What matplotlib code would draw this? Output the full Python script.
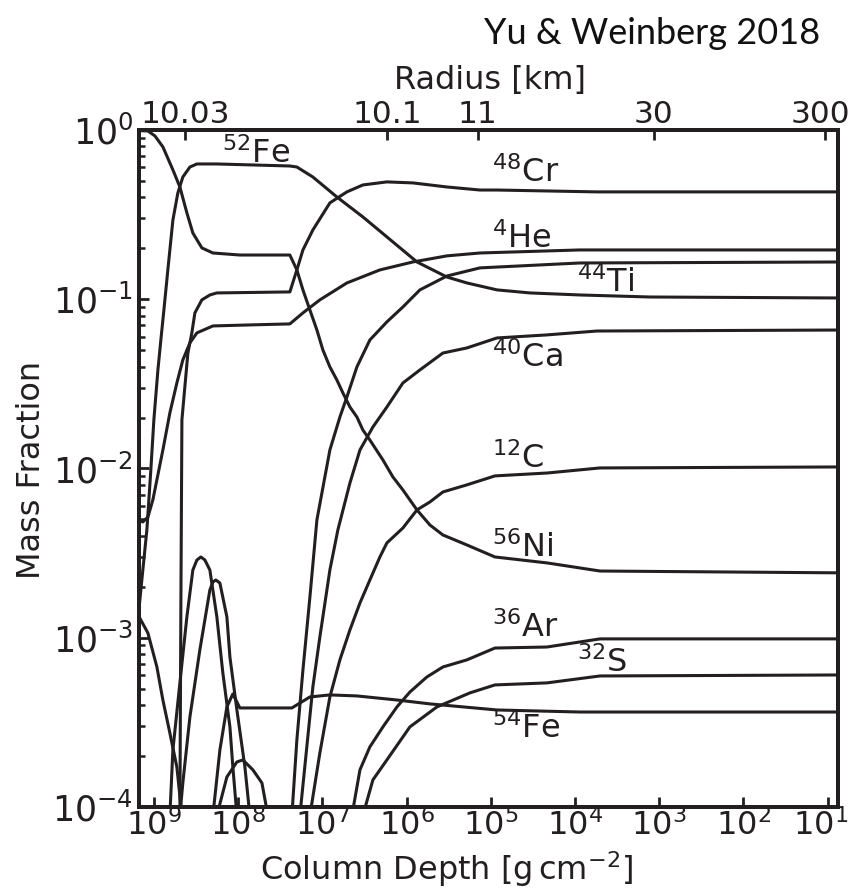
import numpy as np
import matplotlib
matplotlib.use("Agg")
import matplotlib.pyplot as plt
from matplotlib.transforms import ScaledTranslation
from matplotlib.ticker import LogLocator, NullLocator, NullFormatter, FixedLocator, FixedFormatter

plt.rcParams["font.family"] = ["DejaVu Sans"]
plt.rcParams["mathtext.fontset"] = "dejavusans"

C = "#231f20"

# valeurs : log10(colonne) et log10(fraction de masse)
ni56_ld = [9.178, 9.071, 8.988, 8.893, 8.774, 8.691, 8.608, 8.537, 8.430, 8.299, 7.979, 7.385, 7.302, 7.230,
           7.147, 7.064, 6.993, 6.910, 6.827, 6.755, 6.672, 6.589, 6.518, 6.435, 6.280, 6.162, 6.043, 5.876,
           5.722, 5.568, 5.283, 4.950, 4.333, 3.703, 0.8]
ni56_lx = [-0.004, -0.006, -0.035, -0.100, -0.236, -0.337, -0.490, -0.609, -0.697, -0.727, -0.739, -0.739,
           -0.827, -0.945, -1.064, -1.182, -1.300, -1.400, -1.477, -1.554, -1.637, -1.696, -1.773, -1.832,
           -1.950, -2.050, -2.127, -2.245, -2.334, -2.393, -2.452, -2.523, -2.558, -2.606, -2.617]

fe52_ld = [9.178, 9.131, 9.083, 9.036, 9.0, 8.952, 8.917, 8.881, 8.834, 8.774, 8.715, 8.656, 8.572, 8.489,
           8.252, 7.385, 7.302, 7.112, 6.827, 6.518, 6.233, 5.876, 5.520, 5.283, 4.926, 4.534, 3.941, 3.109, 0.8]
fe52_lx = [-2.836, -2.600, -2.363, -2.009, -1.713, -1.418, -1.241, -1.064, -0.827, -0.532, -0.372, -0.278,
           -0.219, -0.201, -0.201, -0.213, -0.219, -0.278, -0.396, -0.514, -0.632, -0.780, -0.869, -0.904,
           -0.945, -0.963, -0.975, -0.987, -0.993]

cr48_ld = [8.691, 8.679, 8.667, 8.632, 8.596, 8.549, 8.513, 8.430, 8.335, 8.252, 7.385, 7.302, 7.230, 7.112,
           6.910, 6.708, 6.518, 6.233, 5.924, 5.520, 5.128, 4.926, 3.739, 0.8]
cr48_lx = [-4.05, -2.777, -1.713, -1.518, -1.318, -1.199, -1.081, -1.004, -0.975, -0.963, -0.957, -0.827,
           -0.709, -0.591, -0.431, -0.366, -0.325, -0.307, -0.313, -0.337, -0.355, -0.355, -0.366, -0.366]

he4_ld = [9.2, 9.131, 9.071, 9.012, 8.893, 8.810, 8.727, 8.656, 8.572, 8.489, 8.299, 7.860, 7.385, 7.230,
          7.029, 6.708, 6.316, 5.924, 5.520, 5.128, 4.736, 3.941, 0.8]
he4_lx = [-2.304, -2.316, -2.287, -2.186, -1.891, -1.672, -1.495, -1.359, -1.258, -1.199, -1.158, -1.152,
          -1.146, -1.081, -1.004, -0.904, -0.827, -0.780, -0.744, -0.727, -0.721, -0.709, -0.709]

ti44_ld = [7.361, 7.302, 7.230, 7.147, 7.064, 6.910, 6.791, 6.708, 6.589, 6.435, 6.233, 6.043, 5.841, 5.520,
           5.128, 3.941, 0.8]
ti44_lx = [-4.05, -3.604, -3.191, -2.759, -2.304, -1.891, -1.696, -1.578, -1.400, -1.241, -1.134, -1.046,
           -0.945, -0.863, -0.815, -0.786, -0.780]

ca40_ld = [7.266, 7.112, 7.029, 6.910, 6.815, 6.672, 6.553, 6.399, 6.233, 6.043, 5.841, 5.568, 5.283, 4.926,
           4.333, 3.739, 0.8]
ca40_lx = [-4.05, -3.291, -2.996, -2.600, -2.363, -2.086, -1.891, -1.755, -1.637, -1.495, -1.418, -1.318,
           -1.288, -1.229, -1.211, -1.188, -1.182]

c12_ld = [7.147, 7.029, 6.910, 6.791, 6.672, 6.553, 6.435, 6.316, 6.233, 6.043, 5.876, 5.722, 5.568, 5.283,
          4.950, 4.333, 3.703, 0.8]
c12_lx = [-4.05, -3.681, -3.350, -3.131, -2.954, -2.795, -2.659, -2.523, -2.440, -2.352, -2.245, -2.198,
          -2.139, -2.097, -2.044, -2.027, -1.997, -1.991]

ar36_ld = [6.648, 6.553, 6.435, 6.280, 6.114, 5.960, 5.758, 5.568, 5.283, 4.950, 4.333, 3.703, 0.8]
ar36_lx = [-4.05, -3.781, -3.645, -3.527, -3.409, -3.321, -3.232, -3.173, -3.131, -3.061, -3.055, -3.007, -3.007]

s32_ld = [6.518, 6.399, 6.233, 5.960, 5.639, 5.247, 4.950, 4.333, 3.703, 0.8]
s32_lx = [-4.05, -3.840, -3.722, -3.527, -3.409, -3.326, -3.279, -3.267, -3.226, -3.220]

fe54_ld = [8.299, 8.216, 8.133, 8.062, 8.014, 7.979, 7.361, 7.266, 7.147, 6.910, 6.589, 6.114, 5.722, 4.926,
           3.941, 0.8]
fe54_lx = [-4.05, -3.663, -3.409, -3.332, -3.380, -3.415, -3.415, -3.386, -3.350, -3.338, -3.344, -3.368,
           -3.391, -3.427, -3.439, -3.439]

# especes non nommees pres de la base
base_ld = [9.2, 9.071, 8.964, 8.893, 8.810, 8.727, 8.667]
base_lx = [-2.854, -2.972, -3.173, -3.368, -3.563, -3.764, -4.05]

pic1_ld = [8.810, 8.774, 8.691, 8.608, 8.537, 8.489, 8.442, 8.394, 8.335, 8.252, 8.181, 8.097, 8.062, 8.014]
pic1_lx = [-4.05, -3.663, -3.267, -2.877, -2.600, -2.541, -2.523, -2.541, -2.600, -2.877, -3.208, -3.527,
           -3.764, -4.05]

pic2_ld = [8.691, 8.656, 8.572, 8.454, 8.335, 8.299, 8.264, 8.216, 8.133, 8.097, 8.014, 7.919, 7.860]
pic2_lx = [-4.05, -3.858, -3.468, -3.072, -2.718, -2.671, -2.659, -2.677, -2.877, -3.114, -3.427, -3.764, -4.05]

pic3_ld = [8.252, 8.133, 8.014, 7.943, 7.824, 7.717, 7.646]
pic3_lx = [-4.05, -3.823, -3.734, -3.722, -3.781, -3.858, -4.05]

# etiquettes : texte, log10(colonne) du bord gauche, log10(X) de la ligne de base
labels = [r"$^{52}$Fe", r"$^{48}$Cr", r"$^{4}$He", r"$^{44}$Ti", r"$^{40}$Ca", r"$^{12}$C",
          r"$^{56}$Ni", r"$^{36}$Ar", r"$^{32}$S", r"$^{54}$Fe"]
label_ld = [8.192, 4.986, 4.986, 3.976, 4.986, 4.986, 4.986, 4.986, 3.976, 4.986]
label_lx = [-0.195, -0.307, -0.697, -0.957, -1.400, -1.997, -2.523, -2.996, -3.202, -3.592]

# graduations
depth_ticks = [1e9, 1e8, 1e7, 1e6, 1e5, 1e4, 1e3, 1e2, 1e1]
frac_ticks = [1e-4, 1e-3, 1e-2, 1e-1, 1e0]

# axe du haut : rayon
radius_labels = ["10.03", "10.1", "11", "30", "300"]
radius_ld = [8.632, 6.233, 5.152, 3.062, 1.034]

fig = plt.figure(figsize=(8.52, 8.9), dpi=100)
ax = fig.add_axes([0.163, 0.0933, 0.8206, 0.7607])

curves = [(ni56_ld, ni56_lx), (fe52_ld, fe52_lx), (cr48_ld, cr48_lx), (he4_ld, he4_lx), (ti44_ld, ti44_lx),
          (ca40_ld, ca40_lx), (c12_ld, c12_lx), (ar36_ld, ar36_lx), (s32_ld, s32_lx), (fe54_ld, fe54_lx),
          (base_ld, base_lx), (pic1_ld, pic1_lx), (pic2_ld, pic2_lx), (pic3_ld, pic3_lx)]
for ld, lx in curves:
    ax.plot(10.0 ** np.array(ld), 10.0 ** np.array(lx), color=C, lw=2.2,
            solid_joinstyle="round", solid_capstyle="round")

for t, ld, lx in zip(labels, label_ld, label_lx):
    ax.text(10.0 ** ld, 10.0 ** lx, t, fontsize=23, color=C, ha="left", va="baseline")

ax.set_xscale("log")
ax.set_yscale("log")
ax.set_xlim(10 ** 9.178, 10 ** 0.876)
ax.set_ylim(1e-4, 1)

ax.xaxis.set_major_locator(FixedLocator(depth_ticks))
ax.xaxis.set_minor_locator(NullLocator())
ax.yaxis.set_major_locator(FixedLocator(frac_ticks))
ax.yaxis.set_minor_locator(LogLocator(base=10, subs=np.arange(2, 10), numticks=20))
ax.yaxis.set_minor_formatter(NullFormatter())
ax.tick_params(which="both", direction="in", top=False, right=False, colors=C, labelcolor=C)
ax.tick_params(which="major", length=7, width=2, labelsize=25, pad=4)
ax.tick_params(axis="x", which="major", pad=2, labelsize=23)
ax.tick_params(which="minor", length=4, width=1.8)
for s in ax.spines.values():
    s.set_linewidth(2.8)
    s.set_color(C)

ax2 = ax.twiny()
ax2.set_xscale("log")
ax2.set_xlim(ax.get_xlim())
ax2.xaxis.set_major_locator(FixedLocator(10.0 ** np.array(radius_ld)))
ax2.xaxis.set_major_formatter(FixedFormatter(radius_labels))
ax2.xaxis.set_minor_locator(NullLocator())
ax2.tick_params(axis="x", direction="in", length=7, width=2, labelsize=22.5, pad=1, colors=C, labelcolor=C)
for s in ax2.spines.values():
    s.set_linewidth(2.8)
    s.set_color(C)

fig.text(490 / 852, 1 - 81 / 890, "Radius [km]", fontsize=23, color=C, ha="center", va="center")
fig.text(447 / 852, 1 - 869 / 890, r"Column Depth [g$\,$cm$^{-2}$]", fontsize=23, color=C,
         ha="center", va="center")
fig.text(32 / 852, 1 - 470 / 890, "Mass Fraction", fontsize=23, color=C, rotation=90,
         ha="center", va="center")
fig.text(820 / 852, 1 - 34 / 890, "Yu & Weinberg 2018", fontsize=26, color="#111111",
         family=["Lato", "DejaVu Sans"], ha="right", va="center")

# les labels 10^1 et 300 debordent a droite : on les decale un peu
fig.canvas.draw()
for tk in ax.xaxis.get_major_ticks():
    if abs(tk.get_loc() - 10) < 1e-6:
        tk.label1.set_transform(tk.label1.get_transform() + ScaledTranslation(-0.07, 0, fig.dpi_scale_trans))
for tk in ax2.xaxis.get_major_ticks():
    if tk.get_loc() < 20:
        tk.label2.set_transform(tk.label2.get_transform() + ScaledTranslation(-0.04, 0, fig.dpi_scale_trans))

fig.savefig("out.png", dpi=100)
